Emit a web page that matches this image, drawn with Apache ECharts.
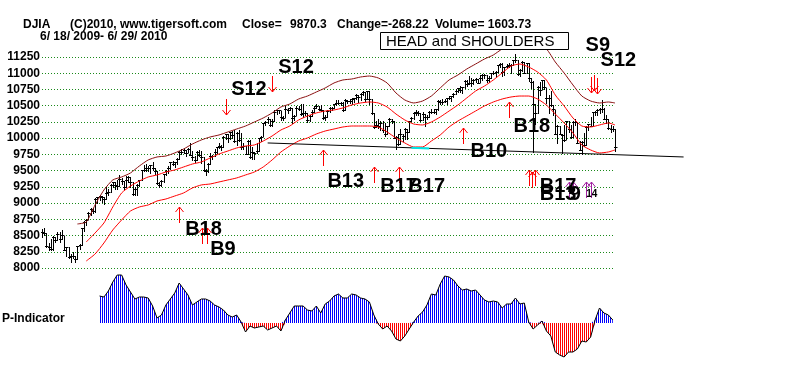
<!DOCTYPE html>
<html><head><meta charset="utf-8">
<script src="https://cdn.jsdelivr.net/npm/echarts/dist/echarts.min.js"></script>
<style>html,body{margin:0;padding:0;background:#fff}#c{width:800px;height:367px}</style>
</head><body><div id="c"></div>
<script>
// Daily DJIA bars, 6/18/2009 .. 6/29/2010 (day index = array position)
const closes = [
8555,8539,8339,8323,8299,8472,8438,8529,8447,
8504,8280,8324,8163,8178,8183,8146,8332,8359,8616,8711,8743,8848,8916,8881,9069,9093,9108,9096,9070,9154,9172,
9286,9320,9280,9256,9370,9337,9241,9362,9399,9321,9136,9218,9280,9350,9505,9509,9539,9543,9580,9544,9496,
9310,9280,9344,9441,9497,9547,9627,9605,9626,9683,9791,9784,9820,9779,9829,9748,9707,9665,9789,9742,9712,
9509,9487,9599,9731,9725,9786,9865,9885,9871,10016,10063,9996,10093,10041,9949,10081,9972,9868,9882,9762,9962,9713,
9789,9772,9802,10005,10023,10227,10247,10291,10198,10270,10406,10437,10426,10333,10318,10450,10434,10464,10310,10345,
10471,10453,10366,10389,10390,10286,10337,10405,10471,10501,10452,10441,10308,10329,10414,10464,10467,10520,10547,10545,10548,10428,
10584,10572,10574,10607,10618,10663,10628,10680,10711,10610,10725,10603,10389,10173,10196,10194,10236,10120,10067,
10185,10297,10270,10002,10012,9908,10058,10038,10144,10099,10268,10309,10392,10402,10383,10283,10375,10321,10325,
10404,10406,10396,10444,10567,10553,10564,10567,10611,10625,10642,10686,10733,10779,10742,10785,10888,10836,10842,10850,10895,10907,10857,
10927,10974,10969,10897,10928,10997,11005,11019,11123,11144,11019,11092,11117,11125,11134,11204,11205,10991,11045,11167,11009,
11151,10926,10868,10520,10380,10785,10748,10896,10782,10620,10625,10510,10444,10068,10193,10067,10043,9975,10259,10137,
10025,10250,10256,9931,9816,9940,9899,10173,10212,10191,10405,10409,10434,10450,10443,10294,10298,10152,10144,10139,9870];
const highs = [
8600,8620,8540,8380,8440,8490,8480,8550,8560,
8590,8500,8330,8330,8210,8240,8190,8340,8370,8620,8720,8760,8870,8930,8920,9080,9100,9120,9110,9090,9250,9210,
9300,9330,9330,9350,9430,9380,9340,9420,9420,9400,9320,9240,9290,9360,9510,9580,9600,9570,9590,9630,9540,
9500,9330,9360,9450,9510,9570,9630,9650,9640,9690,9800,9830,9850,9810,9850,9920,9800,9730,9800,9820,9800,
9710,9530,9620,9770,9740,9830,9870,9920,9890,10030,10070,10060,10100,10110,10120,10100,10120,10080,9920,9880,9970,9970,
9860,9790,9930,10010,10040,10230,10260,10330,10300,10290,10430,10440,10440,10420,10340,10500,10460,10480,10460,10360,
10490,10500,10520,10520,10420,10380,10350,10430,10490,10520,10500,10510,10440,10360,10440,10480,10480,10530,10580,10580,10560,10550,
10600,10590,10600,10620,10620,10680,10660,10700,10720,10710,10730,10720,10610,10390,10260,10290,10260,10260,10240,
10190,10310,10300,10270,10030,10060,10140,10070,10150,10140,10270,10320,10400,10430,10420,10390,10400,10370,10360,
10420,10450,10450,10450,10580,10580,10600,10600,10620,10650,10650,10690,10760,10780,10800,10790,10900,10890,10960,10920,10910,10930,10910,
10980,10990,10990,10980,10950,11000,11030,11030,11130,11150,11150,11100,11140,11160,11140,11210,11290,11200,11070,11190,11170,
11160,11150,10930,10880,10530,10800,10870,10900,10900,10780,10660,10720,10510,10440,10200,10190,10060,10210,10270,10260,
10200,10260,10300,10250,9960,9950,10080,10180,10220,10330,10410,10420,10450,10460,10590,10470,10350,10300,10200,10180,10140];
const lows = [
8470,8510,8320,8280,8280,8270,8400,8430,8400,
8440,8270,8190,8150,8090,8150,8090,8140,8290,8360,8570,8670,8750,8820,8840,8870,9000,9040,9010,8990,9070,9130,
9170,9250,9210,9210,9260,9300,9220,9240,9330,9240,9120,9130,9120,9260,9350,9490,9500,9490,9470,9510,9450,
9290,9250,9270,9330,9440,9470,9520,9580,9550,9600,9680,9750,9770,9720,9780,9740,9670,9640,9670,9720,9620,
9500,9430,9480,9600,9680,9720,9770,9850,9820,9870,9990,9940,9990,10000,9940,9900,9950,9840,9840,9750,9760,9700,
9680,9680,9770,9800,9950,10030,10200,10240,10180,10190,10270,10370,10380,10280,10280,10320,10390,10430,10240,10280,
10350,10430,10350,10320,10360,10250,10260,10340,10410,10460,10430,10420,10290,10280,10330,10410,10440,10470,10510,10530,10510,10420,
10430,10540,10540,10530,10560,10610,10560,10590,10670,10570,10600,10520,10370,10160,10170,10150,10120,10090,10040,
10070,10180,10230,10000,9840,9900,9910,9960,9990,9980,10100,10260,10300,10350,10360,10260,10280,10190,10290,
10320,10390,10380,10370,10440,10530,10520,10550,10520,10600,10570,10630,10680,10710,10710,10690,10770,10800,10830,10810,10840,10860,10850,
10860,10900,10930,10870,10860,10920,10990,10950,11020,11100,10960,10980,11090,11090,11010,11120,11180,10980,10960,11040,11000,
11010,10880,10780,9790,10220,10390,10670,10750,10760,10540,10390,10490,10360,10060,9920,10060,9770,9960,9980,10090,
10010,10020,10200,9920,9810,9760,9880,9900,10120,10180,10190,10350,10360,10390,10410,10290,10240,10140,10100,10110,9800];

// Bands (trading-day index -> level)
const bandDays = [16,20,24,28,32,36,40,44,48,52,56,60,64,68,72,76,80,84,88,92,96,100,104,108,112,116,120,124,128,132,136,140,144,148,152,156,160,164,168,172,176,180,184,188,192,196,200,204,208,212,216,220,224,228,232,236,240,244,248,252,256,259];
const upperBand = [8678,8709,8971,9202,9356,9402,9464,9571,9664,9710,9725,9772,9833,9910,9972,10018,10049,10095,10141,10187,10249,10311,10388,10480,10526,10603,10649,10711,10773,10850,10896,10911,10942,10957,10927,10850,10696,10588,10542,10572,10649,10773,10896,10973,11065,11142,11219,11281,11373,11419,11435,11435,11419,11373,11173,11004,10819,10649,10572,10542,10557,10542];
const middleBand = [null,8401,8540,8694,8940,9156,9263,9340,9402,9433,9479,9510,9556,9602,9633,9695,9756,9802,9849,9879,9895,9956,10033,10126,10187,10280,10341,10388,10418,10434,10465,10511,10542,10557,10542,10480,10372,10280,10218,10203,10249,10326,10418,10511,10619,10726,10803,10896,11004,11111,11142,11096,11019,10896,10665,10496,10311,10187,10172,10203,10234,10203];
const lowerBand = [null,8108,8216,8386,8586,8740,8878,8940,8971,9032,9063,9109,9156,9233,9279,9294,9325,9356,9387,9433,9479,9556,9664,9787,9879,9956,10003,10064,10110,10141,10172,10187,10187,10187,10172,10095,10003,9926,9864,9864,9956,10049,10172,10264,10341,10418,10496,10557,10603,10634,10649,10649,10603,10511,10372,10234,10080,9895,9818,9772,9787,9818];

// Neckline (runs past the last bar) and its highlighted touch
const neckDays = [102, 290];
const neckLevels = [9926, 9710];
const neckTouchDays = [167, 175];
const neckTouchLevels = [9851, 9842];

// P-Indicator, every 2nd trading day from day 26
const pStart = 26;
const pValues = [27,26,32,41,48,48,38,31,24,26,26,25,17,5,8,18,24,30,40,34,28,18,21,24,24,22,18,16,13,8,6,8,1,-9,-3,-5,-4,-3,-7,-5,-3,-8,3,10,17,17,17,13,12,17,10,19,22,27,29,25,25,29,28,25,24,21,8,-1,-6,-3,-8,-16,-18,-13,-6,1,7,11,18,29,28,39,47,46,43,37,33,34,32,33,28,23,21,22,21,15,19,19,25,19,20,1,-6,-2,2,-8,-13,-29,-32,-34,-29,-29,-26,-18,-19,-14,3,15,10,8,3];

// Signal arrows
const sigDay   = [83,104,62,72.5,74.5,127,150,161.5,190.5,211,248,249.5,251,220,221.5,223,238,240,246,248];
const sigPrice = [10357,10711,8940,8617,8617,9818,9556,9556,10157,10557,10700,10730,10680,9510,9480,9510,9325,9325,9325,9325];
const sigDir   = ['down','down','up','up','up','up','up','up','up','up','down','down','down','up','up','up','up','up','up','up'];
const sigKind  = ['R','R','R','R','R','R','R','R','R','R','R','R','R','R','R','R','P','P','P','P'];

// Signal labels
const labText  = ['S12','S12','B18','B9','B13','B17','B17','B10','B18','S9','S12','B17','B13','9','14'];
const labDay   = [85.5,106.8,64.7,76,129,152.9,165.6,193.7,213.1,245.7,252.5,225,225,238.5,246];
const labPrice = [10742,11096,8586,8278,9340,9263,9263,9787,10187,11435,11204,9263,9140,9140,9140];

const yTicks = {min: 8000, max: 11250, step: 250};

// ---------------------------------------------------------------
const chart = echarts.init(document.getElementById('c'), null, {renderer: 'canvas'});
const FONT = '"Liberation Sans", Arial, sans-serif';

function stripes(color) {
  const c = document.createElement('canvas');
  c.width = 2; c.height = 2;
  const g = c.getContext('2d');
  g.fillStyle = color; g.fillRect(0, 0, 1, 2);
  return c;
}

const barData = closes.map((c, i) => [i, highs[i], lows[i], c]);
const pData = pValues.map((v, i) => [pStart + 2 * i, v]);
const pPos = pData.map(p => [p[0], Math.max(p[1], 0)]);
const pNeg = pData.map(p => [p[0], Math.min(p[1], 0)]);
const band = arr => bandDays.map((d, i) => [d, arr[i]]);
const lastDay = closes.length - 1;

const gridL = 42, gridR = 185;

function segmentSeries(days, levels, color, width, z) {
  return {
    type: 'custom', xAxisIndex: 0, yAxisIndex: 0, clip: false, z: z,
    data: [[days[0], levels[0], days[1], levels[1]]], encode: {x: [0, 2], y: [1, 3]},
    renderItem: (params, api) => {
      const a = api.coord([api.value(0), api.value(1)]);
      const b = api.coord([api.value(2), api.value(3)]);
      return {type: 'line', shape: {x1: a[0], y1: a[1], x2: b[0], y2: b[1]}, style: {stroke: color, lineWidth: width}};
    }
  };
}

const option = {
  animation: false,
  backgroundColor: '#fff',
  grid: [
    {left: gridL, right: gridR, top: 57, height: 211},
    {left: gridL, right: gridR, top: 273, height: 90}
  ],
  xAxis: [
    {type: 'value', gridIndex: 0, min: 0, max: lastDay, show: false},
    {type: 'value', gridIndex: 1, min: 0, max: lastDay, show: false}
  ],
  yAxis: [
    {type: 'value', gridIndex: 0, min: yTicks.min, max: yTicks.max, interval: yTicks.step,
     axisLine: {show: false}, axisTick: {show: false},
     axisLabel: {margin: 2, color: '#000', fontWeight: 'bold', fontSize: 12, fontFamily: FONT, formatter: v => String(v)},
     splitLine: {show: true, lineStyle: {color: '#1a8a1a', width: 1, type: [1, 2]}}},
    {type: 'value', gridIndex: 1, min: -40, max: 50, show: false, splitLine: {show: false}}
  ],
  graphic: [
    {type: 'text', left: 23, top: 19, style: {text: 'DJIA', font: 'bold 12px ' + FONT, fill: '#000'}},
    {type: 'text', left: 70, top: 19, style: {text: '(C)2010, www.tigersoft.com', font: 'bold 12px ' + FONT, fill: '#000'}},
    {type: 'text', left: 242, top: 19, style: {text: 'Close=', font: 'bold 12px ' + FONT, fill: '#000'}},
    {type: 'text', left: 290, top: 19, style: {text: '9870.3', font: 'bold 12px ' + FONT, fill: '#000'}},
    {type: 'text', left: 337, top: 19, style: {text: 'Change=-268.22', font: 'bold 12px ' + FONT, fill: '#000'}},
    {type: 'text', left: 435, top: 19, style: {text: 'Volume= 1603.73', font: 'bold 12px ' + FONT, fill: '#000'}},
    {type: 'text', left: 40, top: 31, style: {text: '6/ 18/ 2009- 6/ 29/ 2010', font: 'bold 12px ' + FONT, fill: '#000'}},
    {type: 'rect', shape: {x: 380.5, y: 32.5, width: 188, height: 17}, style: {fill: '#fff', stroke: '#000', lineWidth: 1}, z: 10},
    {type: 'text', left: 386, top: 34, z: 11, style: {text: 'HEAD and SHOULDERS', font: '15px ' + FONT, fill: '#000'}},
    {type: 'text', left: 2, top: 313, style: {text: 'P-Indicator', font: 'bold 12px ' + FONT, fill: '#000'}}
  ],
  series: [
    {
      type: 'custom', xAxisIndex: 0, yAxisIndex: 0, data: barData, clip: false, z: 2,
      encode: {x: 0, y: [1, 2, 3]},
      renderItem: (params, api) => {
        const d = api.value(0);
        const pH = api.coord([d, api.value(1)]);
        const pL = api.coord([d, api.value(2)]);
        const pC = api.coord([d, api.value(3)]);
        const x = Math.round(pH[0]) + 0.5;
        const yc = Math.round(pC[1]) + 0.5;
        return {type: 'group', children: [
          {type: 'line', shape: {x1: x, y1: Math.round(pH[1]), x2: x, y2: Math.round(pL[1]) + 1}, style: {stroke: '#000', lineWidth: 1}},
          {type: 'line', shape: {x1: x - 1.5, y1: yc, x2: x + 2, y2: yc}, style: {stroke: '#000', lineWidth: 1}}
        ]};
      }
    },
    {type: 'line', xAxisIndex: 0, yAxisIndex: 0, data: band(upperBand), showSymbol: false, clip: false, z: 3,
     smooth: 0.2, lineStyle: {color: '#8b1010', width: 1}},
    {type: 'line', xAxisIndex: 0, yAxisIndex: 0, data: band(middleBand), showSymbol: false, clip: false, z: 3,
     smooth: 0.2, connectNulls: false, lineStyle: {color: '#ff0000', width: 1}},
    {type: 'line', xAxisIndex: 0, yAxisIndex: 0, data: band(lowerBand), showSymbol: false, clip: false, z: 3,
     smooth: 0.2, lineStyle: {color: '#ff0000', width: 1}},
    segmentSeries(neckDays, neckLevels, '#000', 1, 4),
    segmentSeries(neckTouchDays, neckTouchLevels, '#00e5e5', 2, 4),
    {
      type: 'custom', xAxisIndex: 0, yAxisIndex: 0, clip: false, z: 5,
      data: sigDay.map((d, i) => [d, sigPrice[i]]), encode: {x: 0, y: 1},
      renderItem: (params, api) => {
        const i = params.dataIndex;
        const p = api.coord([api.value(0), api.value(1)]);
        const x = Math.round(p[0]) + 0.5, y = Math.round(p[1]);
        const s = sigDir[i] === 'up' ? 1 : -1;
        const col = sigKind[i] === 'P' ? '#a020a0' : '#ff0000';
        return {type: 'group', children: [
          {type: 'line', shape: {x1: x, y1: y, x2: x, y2: y + s * 16}, style: {stroke: col, lineWidth: 1}},
          {type: 'polyline', shape: {points: [[x - 4, y + s * 5], [x, y], [x + 4, y + s * 5]]}, style: {stroke: col, lineWidth: 1, fill: null}}
        ]};
      }
    },
    {
      type: 'custom', xAxisIndex: 0, yAxisIndex: 0, clip: false, z: 6,
      data: labDay.map((d, i) => [d, labPrice[i]]), encode: {x: 0, y: 1},
      renderItem: (params, api) => {
        const i = params.dataIndex;
        const p = api.coord([api.value(0), api.value(1)]);
        const small = /^\d\d$/.test(labText[i]);
        return {type: 'text', style: {text: labText[i], x: p[0], y: p[1],
          font: (small ? 'bold 10px ' : 'bold 20px ') + FONT, fill: '#000',
          textAlign: 'left', textVerticalAlign: 'middle', verticalAlign: 'middle'}};
      }
    },
    {type: 'line', xAxisIndex: 1, yAxisIndex: 1, data: pPos, showSymbol: false, z: 2,
     lineStyle: {width: 0, opacity: 0}, areaStyle: {color: {image: stripes('#0000ff'), repeat: 'repeat'}, opacity: 1}},
    {type: 'line', xAxisIndex: 1, yAxisIndex: 1, data: pNeg, showSymbol: false, z: 2,
     lineStyle: {width: 0, opacity: 0}, areaStyle: {color: {image: stripes('#ff0000'), repeat: 'repeat'}, opacity: 1}},
    {type: 'line', xAxisIndex: 1, yAxisIndex: 1, data: pData, showSymbol: false, z: 3,
     lineStyle: {color: '#000', width: 1}}
  ]
};
chart.setOption(option);
</script></body></html>
